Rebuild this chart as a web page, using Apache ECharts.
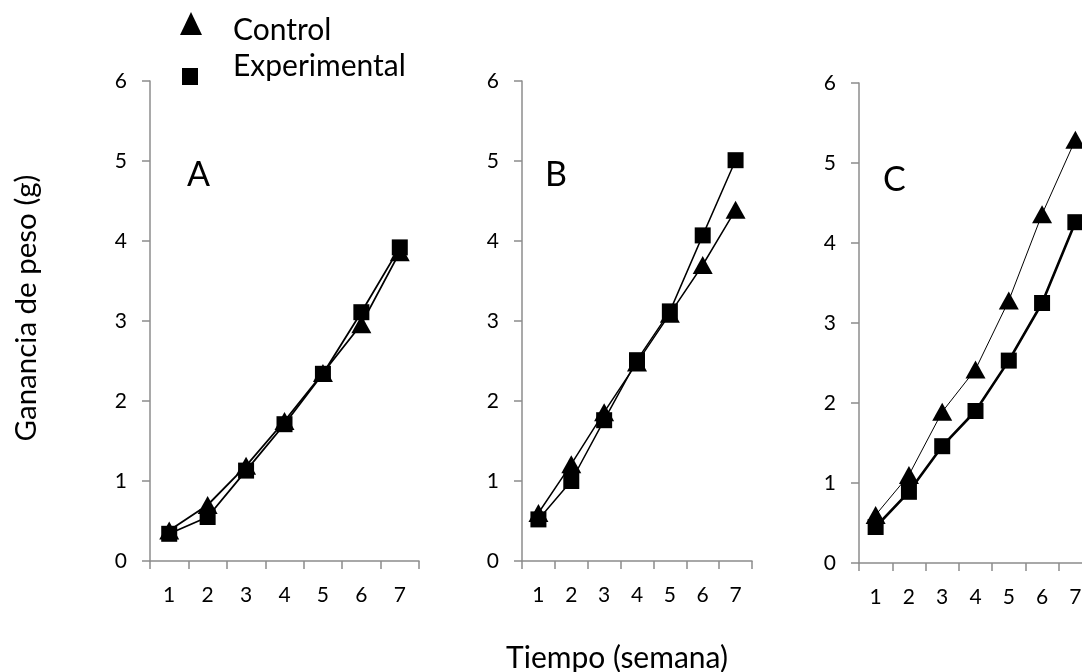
<!DOCTYPE html>
<html>
<head>
<meta charset="utf-8">
<title>Ganancia de peso</title>
<script src="https://cdn.jsdelivr.net/npm/echarts@6/dist/echarts.min.js"></script>
<style>
  html, body { margin: 0; padding: 0; background: #fff; }
  #chart { width: 1082px; height: 672px; }
</style>
</head>
<body>
<div id="chart"></div>
<script>
// Weekly weight gain (g) for three trials, control vs experimental
const weeks = ['1', '2', '3', '4', '5', '6', '7'];
const yTicks = [0, 1, 2, 3, 4, 5, 6];
const panelNames = ['A', 'B', 'C'];
const seriesNames = ['Control', 'Experimental'];

const controlA      = [0.38, 0.70, 1.19, 1.75, 2.35, 2.96, 3.86];
const experimentalA = [0.34, 0.55, 1.13, 1.71, 2.34, 3.11, 3.92];
const controlB      = [0.60, 1.21, 1.86, 2.48, 3.09, 3.70, 4.39];
const experimentalB = [0.52, 1.00, 1.76, 2.51, 3.12, 4.07, 5.01];
const controlC      = [0.60, 1.10, 1.89, 2.42, 3.28, 4.36, 5.29];
const experimentalC = [0.45, 0.89, 1.46, 1.90, 2.53, 3.25, 4.26];

const panelData = [
  [controlA, experimentalA],
  [controlB, experimentalB],
  [controlC, experimentalC]
];

// plot frames for the three panels (pixels); the third runs past the right edge
const frames = [
  { left: 150, top: 81, width: 269, height: 480, lw: [1.8, 1.8] },
  { left: 522, top: 81, width: 230, height: 480, lw: [1.5, 1.5] },
  { left: 859, top: 83, width: 233, height: 480, lw: [1.0, 2.6] }
];

const FONT = 'Lato';
const AXIS_COLOR = '#8c8c8c';

const grids = [], xAxes = [], yAxes = [], series = [];
frames.forEach((f, i) => {
  grids.push({
    left: f.left, top: f.top, width: f.width, height: f.height,
    containLabel: false, outerBoundsMode: 'none'
  });
  xAxes.push({
    type: 'category', gridIndex: i, data: weeks, boundaryGap: true,
    axisLine: { show: true, lineStyle: { color: AXIS_COLOR, width: 1.5 } },
    axisTick: { show: true, length: 8, interval: 0, alignWithLabel: false, lineStyle: { color: AXIS_COLOR, width: 1.5 } },
    axisLabel: { interval: 0, margin: 24, fontFamily: FONT, fontSize: 21, color: '#000' },
    splitLine: { show: false }
  });
  yAxes.push({
    type: 'value', gridIndex: i, min: yTicks[0], max: yTicks[yTicks.length - 1], interval: 1,
    axisLine: { show: true, lineStyle: { color: AXIS_COLOR, width: 1.5 } },
    axisTick: { show: true, length: 8, lineStyle: { color: AXIS_COLOR, width: 1.5 } },
    axisLabel: { margin: 23, fontFamily: FONT, fontSize: 21, color: '#000' },
    splitLine: { show: false }
  });
  const [ctrl, expv] = panelData[i];
  series.push({
    name: seriesNames[0], type: 'line', xAxisIndex: i, yAxisIndex: i, data: ctrl,
    symbol: 'triangle', symbolSize: [20, 18], showAllSymbol: true,
    lineStyle: { color: '#000', width: f.lw[0] }, itemStyle: { color: '#000' },
    emphasis: { disabled: true }, animation: false, z: 2
  });
  series.push({
    name: seriesNames[1], type: 'line', xAxisIndex: i, yAxisIndex: i, data: expv,
    symbol: 'rect', symbolSize: 16, showAllSymbol: true,
    lineStyle: { color: '#000', width: f.lw[1] }, itemStyle: { color: '#000' },
    emphasis: { disabled: true }, animation: false, z: 3
  });
});

// legend: names in one column, the two markers placed on their own
const blank = () => '';
const iconText = { fontSize: 1, lineHeight: 1 };
const legends = [
  {
    data: seriesNames.map(n => ({ name: n, icon: 'none' })),
    left: 228, top: 15, orient: 'vertical', padding: 0, itemGap: 6,
    itemWidth: 0, itemHeight: 0, selectedMode: false,
    textStyle: { fontFamily: FONT, fontSize: 30, lineHeight: 30, color: '#000' }
  },
  {
    data: [{ name: seriesNames[0], icon: 'triangle' }],
    left: 180, top: 12, padding: 0, itemWidth: 22, itemHeight: 23,
    selectedMode: false, formatter: blank, textStyle: iconText
  },
  {
    data: [{ name: seriesNames[1], icon: 'rect' }],
    left: 182, top: 68, padding: 0, itemWidth: 16, itemHeight: 17,
    selectedMode: false, formatter: blank, textStyle: iconText
  }
];

const letterPos = [[187, 178], [545, 178], [883, 183]];

const option = {
  animation: false,
  backgroundColor: '#fff',
  grid: grids,
  xAxis: xAxes,
  yAxis: yAxes,
  series: series,
  legend: legends,
  graphic: [
    ...panelNames.map((t, i) => ({
      type: 'text', left: letterPos[i][0], top: letterPos[i][1] - 20,
      style: { text: t, fontFamily: FONT, fontSize: 34, fill: '#000' }
    })),
    {
      type: 'text', x: 26, y: 308, rotation: Math.PI / 2,
      style: { text: 'Ganancia de peso (g)', fontFamily: FONT, fontSize: 29.5, fill: '#000',
               align: 'center', verticalAlign: 'middle' }
    },
    {
      type: 'text', x: 617, y: 658,
      style: { text: 'Tiempo (semana)', fontFamily: FONT, fontSize: 30, fill: '#000',
               align: 'center', verticalAlign: 'middle' }
    }
  ]
};

const chart = echarts.init(document.getElementById('chart'), null, { renderer: 'canvas' });
chart.setOption(option);
</script>
</body>
</html>
